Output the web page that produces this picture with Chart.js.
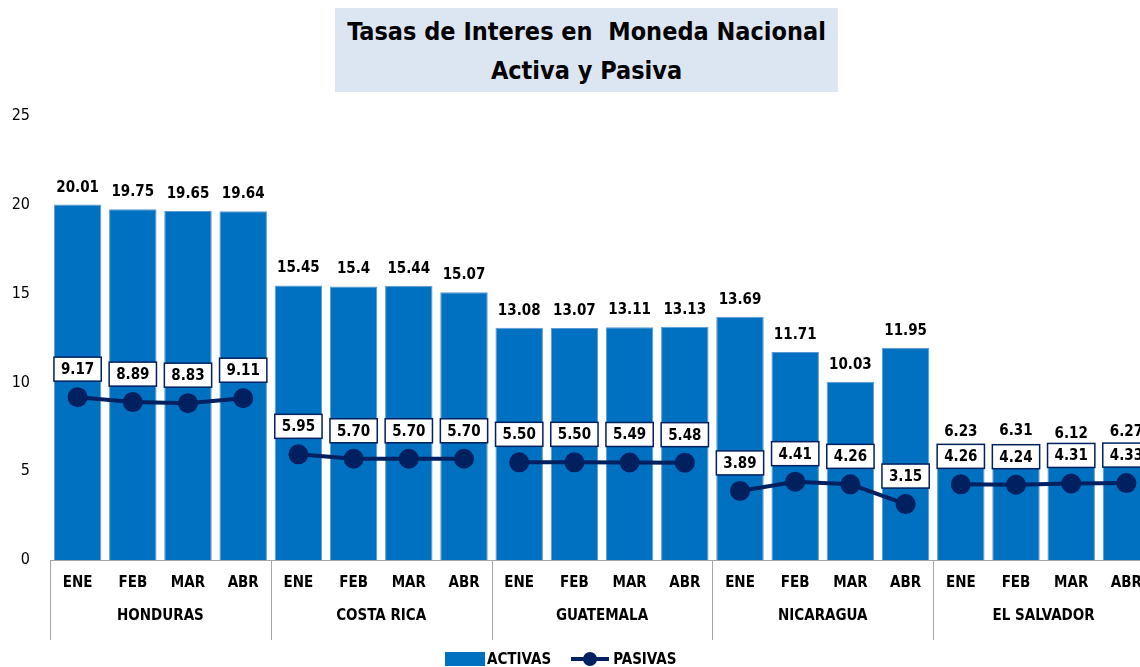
<!DOCTYPE html>
<html>
<head>
<meta charset="utf-8">
<script src="https://cdn.jsdelivr.net/npm/chart.js@4/dist/chart.umd.min.js"></script>
<style>
  html, body { margin: 0; padding: 0; background: #fff; width: 1140px; height: 667px; overflow: hidden; }
  #wrap { position: relative; width: 1140px; height: 667px; overflow: hidden; }
  #c { position: absolute; left: 0; top: 0; }
  #title {
    position: absolute; left: 335px; top: 8px; width: 503px; height: 84px;
    background: #dce6f2; color: #000; text-align: center;
    font: bold 25px 'Liberation Sans Narrow', 'DejaVu Sans Condensed', sans-serif;
    line-height: 39px; padding-top: 4px; box-sizing: border-box; white-space: pre;
  }
  #legend {
    position: absolute; top: 650px; left: 445px; height: 17px;
    font: bold 15px 'Liberation Sans Narrow', 'DejaVu Sans Condensed', sans-serif;
    display: flex; align-items: center; color: #000;
  }
  .sw { display: inline-block; width: 40px; height: 14px; background: #0070c0; margin-right: 2px; }
  .ln { position: relative; display: inline-block; width: 38px; height: 14px; margin: 0 4px 0 20px; }
  .ln:before { content: ''; position: absolute; left: 0; right: 0; top: 5px; height: 4px; background: #002060; }
  .ln:after { content: ''; position: absolute; left: 12px; top: 0; width: 14px; height: 14px; border-radius: 50%; background: #002060; }
</style>
</head>
<body>
<div id="wrap">
  <canvas id="c" width="1166" height="667"></canvas>
  <div id="title">Tasas de Interes en  Moneda Nacional
Activa y Pasiva</div>
  <div id="legend"><span class="sw"></span>ACTIVAS<span class="ln"></span>PASIVAS</div>
</div>
<script>
const countries = ['HONDURAS', 'COSTA RICA', 'GUATEMALA', 'NICARAGUA', 'EL SALVADOR'];
const months = ['ENE', 'FEB', 'MAR', 'ABR'];
const activas = [20.01, 19.75, 19.65, 19.64, 15.45, 15.4, 15.44, 15.07, 13.08, 13.07, 13.11, 13.13, 13.69, 11.71, 10.03, 11.95, 6.23, 6.31, 6.12, 6.27];
const pasivas = [9.17, 8.89, 8.83, 9.11, 5.95, 5.70, 5.70, 5.70, 5.50, 5.50, 5.49, 5.48, 3.89, 4.41, 4.26, 3.15, 4.26, 4.24, 4.31, 4.33];
const activasText = ['20.01', '19.75', '19.65', '19.64', '15.45', '15.4', '15.44', '15.07', '13.08', '13.07', '13.11', '13.13', '13.69', '11.71', '10.03', '11.95', '6.23', '6.31', '6.12', '6.27'];
const yTicks = [0, 5, 10, 15, 20, 25];

const FONT = "'Liberation Sans Narrow', 'DejaVu Sans Condensed', sans-serif";
const NAVY = '#002060';
const labels = [];
countries.forEach(() => months.forEach(m => labels.push(m)));

// group separators + country names under the month labels
const groupPlugin = {
  id: 'groups',
  afterDraw(chart) {
    const { ctx, chartArea } = chart;
    const x = chart.scales.x;
    const w = x.width / labels.length;
    ctx.save();
    ctx.strokeStyle = '#a6a6a6';
    ctx.lineWidth = 1;
    ctx.beginPath();
    ctx.moveTo(chartArea.left, chartArea.bottom + 0.5);
    ctx.lineTo(chartArea.right, chartArea.bottom + 0.5);
    for (let g = 0; g <= countries.length; g++) {
      const px = Math.round(x.left + g * months.length * w) + 0.5;
      ctx.moveTo(px, chartArea.bottom);
      ctx.lineTo(px, chartArea.bottom + 80);
    }
    ctx.stroke();
    ctx.fillStyle = '#000';
    ctx.font = 'bold 15px ' + FONT;
    ctx.textAlign = 'center';
    ctx.textBaseline = 'middle';
    countries.forEach((c, g) => {
      ctx.fillText(c, x.left + (g + 0.5) * months.length * w, chartArea.bottom + 56);
    });
    ctx.restore();
  }
};

// value labels
const labelPlugin = {
  id: 'vals',
  afterDatasetsDraw(chart) {
    const ctx = chart.ctx;
    ctx.save();
    ctx.font = 'bold 15px ' + FONT;
    ctx.textAlign = 'center';
    ctx.textBaseline = 'middle';
    ctx.fillStyle = '#000';
    chart.getDatasetMeta(1).data.forEach((el, i) => {
      ctx.fillText(activasText[i], el.x, el.y - 17);
    });
    chart.getDatasetMeta(0).data.forEach((el, i) => {
      const t = pasivas[i].toFixed(2);
      const tw = ctx.measureText(t).width + 14;
      const cy = el.y - 28;
      ctx.fillStyle = '#fff';
      ctx.fillRect(el.x - tw / 2, cy - 12, tw, 24);
      ctx.strokeStyle = NAVY;
      ctx.lineWidth = 1.5;
      ctx.strokeRect(el.x - tw / 2, cy - 12, tw, 24);
      ctx.fillStyle = '#000';
      ctx.fillText(t, el.x, cy + 1);
    });
    ctx.restore();
  }
};

new Chart(document.getElementById('c'), {
  data: {
    labels: labels,
    datasets: [{
      type: 'line',
      label: 'PASIVAS',
      data: pasivas,
      order: 0,
      borderColor: NAVY,
      backgroundColor: NAVY,
      borderWidth: 4,
      pointRadius: 8,
      pointHoverRadius: 8,
      pointBackgroundColor: NAVY,
      pointBorderColor: NAVY,
      tension: 0,
      segment: {
        borderColor: c => (c.p0DataIndex % months.length === months.length - 1 ? 'transparent' : NAVY)
      }
    }, {
      type: 'bar',
      label: 'ACTIVAS',
      data: activas,
      order: 1,
      backgroundColor: '#0070c0',
      borderColor: '#5b9bd5',
      borderWidth: 1,
      categoryPercentage: 1,
      barPercentage: 0.86
    }]
  },
  options: {
    responsive: false,
    animation: false,
    layout: { padding: { top: 116, right: 4, left: 0, bottom: 0 } },
    plugins: {
      legend: { display: false },
      tooltip: { enabled: false }
    },
    scales: {
      x: {
        grid: { display: false, drawTicks: false },
        border: { display: false },
        ticks: { color: '#000', font: { family: FONT, size: 15, weight: 'bold' }, padding: 14, maxRotation: 0, autoSkip: false },
        afterFit: s => { s.height = 107; }
      },
      y: {
        min: 0,
        max: 25,
        grid: { display: false, drawTicks: false },
        border: { display: false },
        afterBuildTicks: s => { s.ticks = yTicks.map(v => ({ value: v })); },
        ticks: { color: '#000', font: { family: FONT, size: 16 }, padding: 20 },
        afterFit: s => { s.width = 50; }
      }
    }
  },
  plugins: [groupPlugin, labelPlugin]
});
</script>
</body>
</html>
